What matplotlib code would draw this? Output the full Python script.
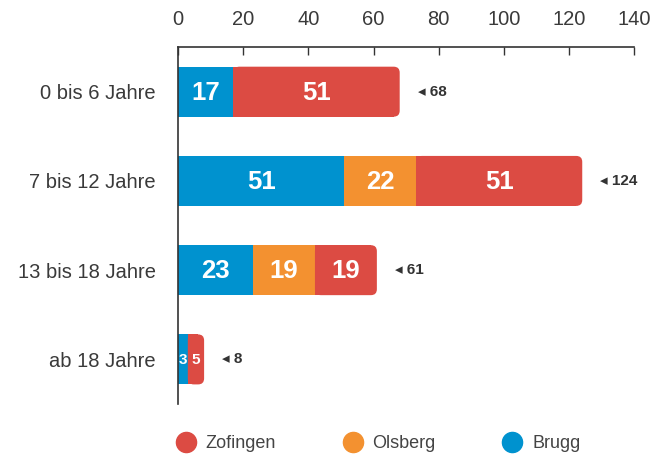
import numpy as np
import matplotlib.pyplot as plt
from matplotlib.patches import FancyBboxPatch
from matplotlib.lines import Line2D

plt.rcParams['font.family'] = ['Liberation Sans', 'DejaVu Sans']

# data
groups = ['0 bis 6 Jahre', '7 bis 12 Jahre', '13 bis 18 Jahre', 'ab 18 Jahre']
brugg = [17, 51, 23, 3]
olsberg = [0, 22, 19, 0]
zofingen = [51, 51, 19, 5]
series_names = ['Brugg', 'Olsberg', 'Zofingen']
colors = ['#0092cf', '#f39130', '#dc4b43']

series = [brugg, olsberg, zofingen]
totals = [sum(v) for v in zip(*series)]

fig = plt.figure(figsize=(6.68, 4.55), dpi=100)
ax = fig.add_axes([0.2665, 0.112, 0.6832, 0.7846])

y = np.arange(len(groups))
h = 0.56
r = 1.84            # corner radius in x units
asp = 0.067 / r     # y/x ratio for the rounding

left = np.zeros(len(groups))
for name, vals, col in zip(series_names, series, colors):
    vals = np.array(vals, dtype=float)
    for i in range(len(groups)):
        w = vals[i]
        if w == 0:
            continue
        # last segment of the row gets rounded right corners
        last = left[i] + w == totals[i]
        if last:
            ax.add_patch(FancyBboxPatch((left[i], y[i] - h / 2), w, h,
                                        boxstyle=f"round,pad=0,rounding_size={r}",
                                        mutation_aspect=asp, fc=col, ec='none', zorder=2))
            ax.barh(y[i], w - r, left=left[i], height=h, color=col, zorder=2)
        else:
            ax.barh(y[i], w, left=left[i], height=h, color=col, zorder=2)
        fs = 18.5 if w >= 10 else 11
        ax.text(left[i] + w / 2, y[i] + 0.01, f"{int(w)}", ha='center', va='center',
                color='white', fontsize=fs, fontweight='bold', zorder=3)
    left += vals

for i, t in enumerate(totals):
    ax.text(t + 5.5, y[i], f"\u25c2 {t}", ha='left', va='center', fontsize=11,
            fontweight='bold', color='#333333')

ax.set_xlim(0, 140)
ax.set_ylim(3.5, -0.5)
ax.set_xticks(np.arange(0, 141, 20))
ax.set_yticks(y)
ax.set_yticklabels(groups)
ax.xaxis.tick_top()
ax.tick_params(axis='x', direction='in', length=6, width=1, color='#333333',
               pad=13, labelsize=14.5, labelcolor='#3a3a3a')
ax.tick_params(axis='y', length=0, pad=16, labelsize=14.5, labelcolor='#3a3a3a')
for s in ['right', 'bottom']:
    ax.spines[s].set_visible(False)
for s in ['left', 'top']:
    ax.spines[s].set_color('#333333')
    ax.spines[s].set_linewidth(1.2)

handles = [Line2D([], [], marker='o', ls='none', markersize=14.5, color=c)
           for c in reversed(colors)]
fig.legend(handles, list(reversed(series_names)), loc='center left',
           bbox_to_anchor=(0.24, 1 - 444 / 455), ncol=3, frameon=False,
           fontsize=13, handlelength=1.0, handletextpad=0.6, columnspacing=3.75,
           labelcolor='#444444')

fig.savefig('out.png', dpi=100)
